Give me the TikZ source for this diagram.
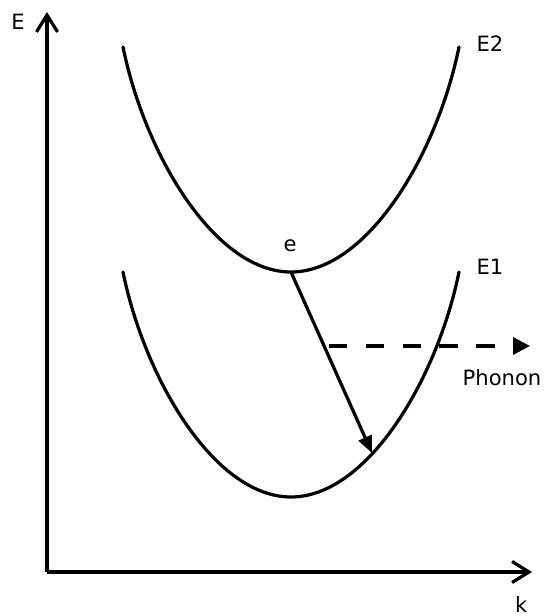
\documentclass[tikz,border=0pt]{standalone}
\usepackage{fontspec}
\setmainfont{DejaVu Sans}
\usetikzlibrary{arrows.meta}

\begin{document}
\begin{tikzpicture}[line width=2.3pt,
    axis/.style={-{Straight Barb[length=12pt,width=15pt,line width=2.3pt]}},
    band/.style={line cap=round},
    lbl/.style={font=\fontsize{15}{18}\selectfont,inner sep=0pt}]
        \useasboundingbox (0,0) rectangle (13.6,15.4);
        % axes
        \coordinate (O) at (1.175,1.1);
        \coordinate (Etop) at (1.175,15.1);
        \coordinate (kend) at (13.3,1.1);
        \draw[axis] (O) -- (Etop);
        \draw[axis] (O) -- (kend);
        \node[lbl] (E) at (0.45,14.85) {E};
        \node[lbl] (k) at (13.03,0.28) {k};
        % upper band
        \coordinate (emin) at (7.275,8.6);
        \draw[band] (3.075,14.225) .. controls (3.625,11.525) and (5.375,8.6) .. (emin)
            .. controls (9.175,8.6) and (10.925,11.525) .. (11.475,14.225);
        \node[lbl] (E2) at (12.25,14.3) {E2};
        \node[lbl] (e) at (7.25,9.25) {e};
        % lower band
        \draw[band] (3.075,8.6) .. controls (3.625,5.9) and (5.375,2.975) .. (7.275,2.975)
            .. controls (9.175,2.975) and (10.925,5.9) .. (11.475,8.6);
        \node[lbl] (E1) at (12.25,8.72) {E1};
        % transition and phonon
        \coordinate (efin) at (9.3,4.075);
        \draw[-{Triangle[length=12pt,width=10pt]}] (emin) -- (efin);
        \coordinate (ph0) at (8.225,6.75);
        \coordinate (ph1) at (13.25,6.75);
        \draw[dash pattern=on 0.46cm off 0.46cm,-{Triangle[length=12pt,width=12pt]}] (ph0) -- (ph1);
        \node[lbl] (phonon) at (12.55,5.95) {Phonon};
    \end{tikzpicture}
\end{document}
